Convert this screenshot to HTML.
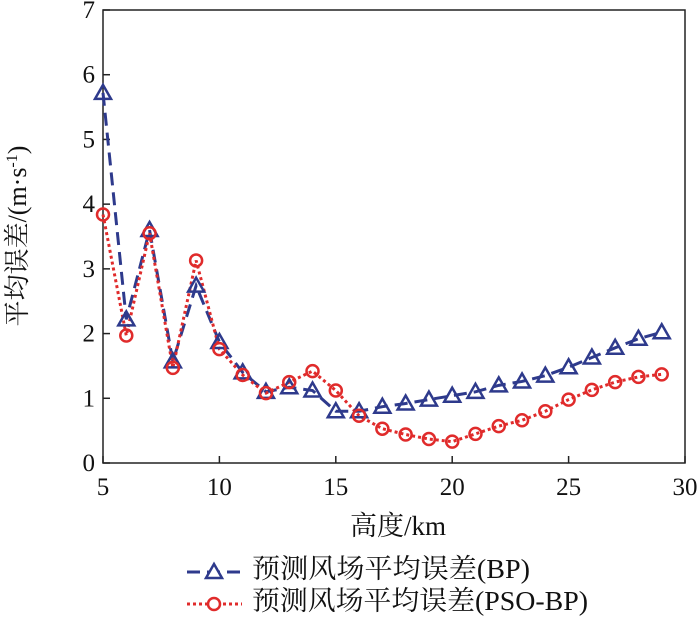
<!DOCTYPE html>
<html><head><meta charset="utf-8"><style>
body{margin:0;background:#fff;}
svg text{font-family:"Liberation Serif","Noto Serif CJK SC",serif;fill:#111;}
</style></head><body>
<svg width="700" height="617" viewBox="0 0 700 617">
<g id="axes"></g>
<g id="series"></g>
<g id="legend">
  <line x1="187" y1="572" x2="242" y2="572" stroke="#2e3a8c" stroke-width="3" stroke-dasharray="13,7"/>
  <polygon points="214,564 222,578 206,578" fill="#fff" stroke="#2e3a8c" stroke-width="2.5"/>
  <text x="252" y="578" font-size="27" textLength="278" lengthAdjust="spacingAndGlyphs">预测风场平均误差(BP)</text>
  <line x1="187" y1="604" x2="242" y2="604" stroke="#e02b2b" stroke-width="3" stroke-dasharray="3,3"/>
  <circle cx="214" cy="604" r="6" fill="#fff" stroke="#e02b2b" stroke-width="2.5"/>
  <text x="252" y="610" font-size="27" textLength="336" lengthAdjust="spacingAndGlyphs">预测风场平均误差(PSO-BP)</text>
</g>
</svg>
<script>
const heights=[5,6,7,8,9,10,11,12,13,14,15,16,17,18,19,20,21,22,23,24,25,26,27,28,29];
const bpValues=[5.72,2.22,3.6,1.57,2.74,1.87,1.4,1.1,1.17,1.12,0.8,0.8,0.87,0.92,0.98,1.04,1.1,1.2,1.26,1.35,1.48,1.63,1.78,1.92,2.02];
const psoValues=[3.84,1.97,3.55,1.47,3.13,1.76,1.36,1.08,1.25,1.42,1.12,0.73,0.53,0.44,0.37,0.33,0.45,0.57,0.66,0.8,0.98,1.13,1.25,1.33,1.37];
const xTicks=[5,10,15,20,25,30];
const yTicks=[0,1,2,3,4,5,6,7];
const L=103,R=685,T=10,B=463;
const xs=v=>L+(v-5)/25*(R-L);
const ys=v=>B-v/7*(B-T);
const NS="http://www.w3.org/2000/svg";
function mk(tag,attrs,parent){const e=document.createElementNS(NS,tag);for(const k in attrs)e.setAttribute(k,attrs[k]);parent.appendChild(e);return e;}
const ax=document.getElementById('axes');
let fr=mk('rect',{x:L,y:T,width:R-L,height:B-T,fill:'none',stroke:'#222','stroke-width':1.5},ax);


xTicks.forEach(t=>{
 let l=mk('line',{x1:xs(t),x2:xs(t),y1:B,y2:B-7,stroke:'#222','stroke-width':1.5},ax);
 
 
 let tx=mk('text',{x:xs(t),y:495,'font-size':25,'text-anchor':'middle'},ax);tx.textContent=t;
 
 
});
yTicks.forEach(t=>{
 let l=mk('line',{x1:L,x2:L+7,y1:ys(t),y2:ys(t),stroke:'#222','stroke-width':1.5},ax);
 
 
 let tx=mk('text',{x:L-8,y:ys(t)+8,'font-size':25,'text-anchor':'end'},ax);tx.textContent=t;
 
 
});
let xt=mk('text',{x:398,y:535,'font-size':27,'text-anchor':'middle'},ax);xt.textContent='高度/km';


let yt=mk('text',{x:0,y:0,'font-size':26,'text-anchor':'middle',transform:'translate(26,236) rotate(-90)'},ax);
yt.innerHTML='平均误差/(m·s<tspan dy="-9" font-size="16">-1</tspan><tspan dy="9">)</tspan>';


const sg=document.getElementById('series');
const pts=a=>a.map((v,i)=>xs(heights[i])+','+ys(v)).join(' ');
let l1=mk('polyline',{points:pts(bpValues),fill:'none',stroke:'#2e3a8c','stroke-width':3,'stroke-dasharray':'13,7'},sg);


let l2=mk('polyline',{points:pts(psoValues),fill:'none',stroke:'#e02b2b','stroke-width':3,'stroke-dasharray':'3,3'},sg);


bpValues.forEach((v,i)=>{
 const x=xs(heights[i]),y=ys(v);
 let p=mk('polygon',{points:`${x},${y-8} ${x+8},${y+6} ${x-8},${y+6}`,fill:'none',stroke:'#2e3a8c','stroke-width':2.5},sg);
 
 
});
psoValues.forEach((v,i)=>{
 let c=mk('circle',{cx:xs(heights[i]),cy:ys(v),r:6,fill:'none',stroke:'#e02b2b','stroke-width':2.5},sg);
 
 
});
</script>
</body></html>
